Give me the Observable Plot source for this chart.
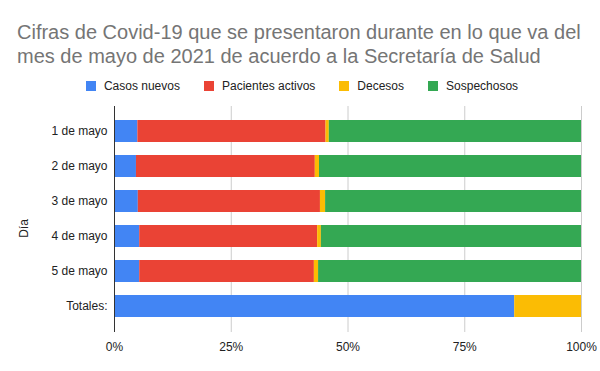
<!DOCTYPE html>
<html>
<head>
<meta charset="utf-8">
<script src="https://cdn.jsdelivr.net/npm/d3@7"></script>
<script src="https://cdn.jsdelivr.net/npm/@observablehq/plot@0.6"></script>
<style>
  html, body { margin: 0; padding: 0; background: #fff; }
  body { width: 600px; height: 371px; overflow: hidden; font-family: "Liberation Sans", Arial, sans-serif; }
  #title { padding: 20px 0 0 17px; font-size: 20px; line-height: 24px; color: #757575; white-space: nowrap; }
  #legend { margin-top: 8px; padding-left: 4px; height: 20px; display: flex; justify-content: center; align-items: center; font-size: 12px; color: #222; }
  .item { display: flex; align-items: center; margin: 0 12px; }
  .sw { width: 10px; height: 10px; margin-right: 8px; }
  #chart svg { display: block; }
</style>
</head>
<body>
<div id="title">Cifras de Covid-19 que se presentaron durante en lo que va del<br>mes de mayo de 2021 de acuerdo a la Secretaría de Salud</div>
<div id="legend"></div>
<div id="chart"></div>
<script>
const dias = ["1 de mayo", "2 de mayo", "3 de mayo", "4 de mayo", "5 de mayo", "Totales:"];
const series = ["Casos nuevos", "Pacientes activos", "Decesos", "Sospechosos"];
const colores = ["#4285F4", "#EA4335", "#FBBC04", "#34A853"];
const casosNuevos      = [5.0, 4.7, 5.1, 5.4, 5.4, 85.7];
const pacientesActivos = [40.3, 38.3, 39.0, 38.1, 37.4, 0];
const decesos          = [0.7, 0.9, 1.1, 0.8, 0.9, 14.3];
const sospechosos      = [54.0, 56.1, 54.8, 55.7, 56.3, 0];
const ticksX = [0, 0.25, 0.5, 0.75, 1];
const ejeY = "Día";

const valores = [casosNuevos, pacientesActivos, decesos, sospechosos];
const data = [];
dias.forEach((d, i) => {
  series.forEach((s, j) => data.push({dia: d, serie: s, valor: valores[j][i]}));
});

const legend = document.getElementById("legend");
series.forEach((s, j) => {
  const it = document.createElement("div");
  it.className = "item";
  const sw = document.createElement("span");
  sw.className = "sw";
  sw.style.background = colores[j];
  const t = document.createElement("span");
  t.textContent = s;
  it.appendChild(sw); it.appendChild(t);
  legend.appendChild(it);
});

const chart = Plot.plot({
  width: 600,
  height: 275,
  marginLeft: 114,
  marginRight: 19,
  marginTop: 10,
  marginBottom: 39,
  style: {fontFamily: "'Liberation Sans', Arial, sans-serif", fontSize: "12px", color: "#222", background: "#fff"},
  x: {domain: [0, 1], ticks: ticksX, tickFormat: d3.format(".0%"), label: null},
  y: {domain: dias, paddingInner: 0.36, paddingOuter: 0.32, label: null},
  color: {domain: series, range: colores},
  marks: [
    Plot.ruleX(ticksX.slice(1), {stroke: "#cccccc", strokeWidth: 1}),
    Plot.barX(data, Plot.stackX({x: "valor", y: "dia", fill: "serie", order: series, offset: "normalize"})),
    Plot.ruleX([0], {stroke: "#333333", strokeWidth: 1}),
    Plot.axisX({ticks: ticksX, tickFormat: d3.format(".0%"), tickSize: 0, tickPadding: 9.5, label: null, fill: "#222"}),
    Plot.axisY({tickSize: 0, tickPadding: 7, label: null, fill: "#222"}),
    Plot.text([ejeY], {frameAnchor: "left", textAnchor: "middle", lineAnchor: "middle", rotate: -90, dx: -90, dy: 9, fill: "#222", fontSize: 12})
  ]
});
document.getElementById("chart").appendChild(chart);
</script>
</body>
</html>
